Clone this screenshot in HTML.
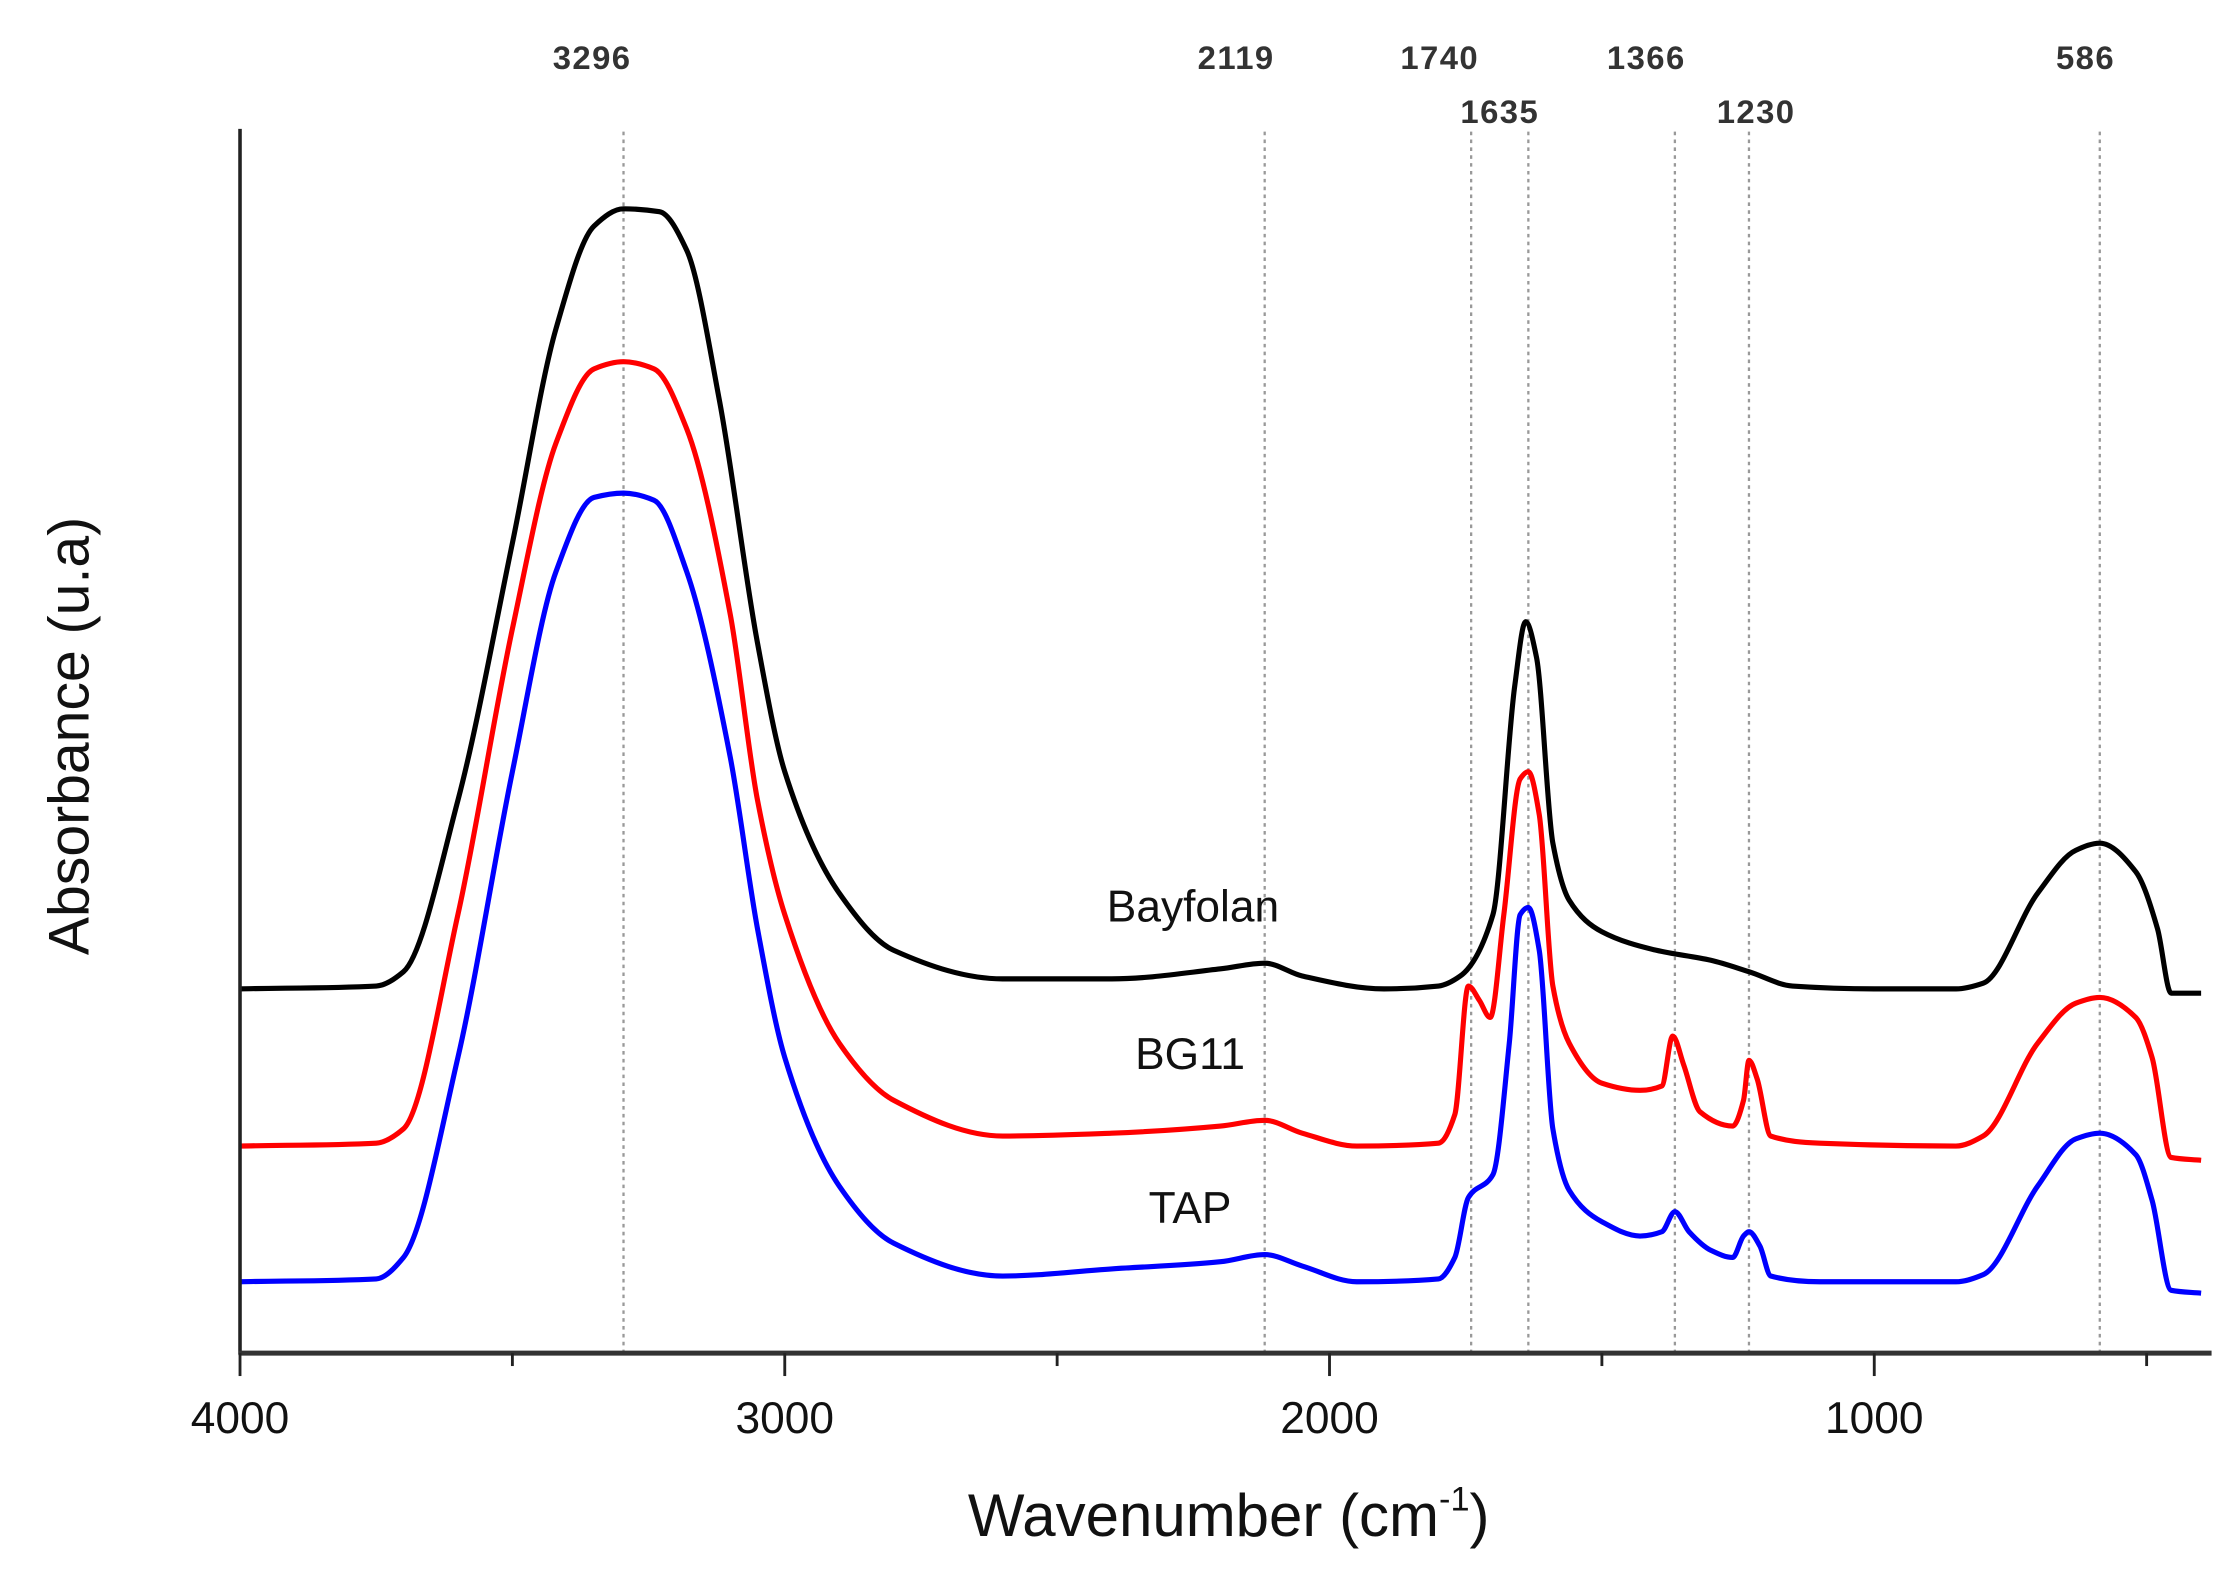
<!DOCTYPE html>
<html><head><meta charset="utf-8"><style>
html,body{margin:0;padding:0;background:#fff;}
svg{display:block;font-family:"Liberation Sans",Arial,sans-serif;}
</style></head><body>
<svg id="chart" width="2233" height="1582" viewBox="0 0 1563 1107" xmlns="http://www.w3.org/2000/svg">
<g id="grid"></g>
<g id="series"></g>
<g id="axes"></g>
<text x="835" y="645" font-size="31" text-anchor="middle" fill="#111">Bayfolan</text>
<text x="833" y="748" font-size="31" text-anchor="middle" fill="#111">BG11</text>
<text x="833" y="856" font-size="31" text-anchor="middle" fill="#111">TAP</text>
<text x="860" y="1075" font-size="42" text-anchor="middle" fill="#111">Wavenumber (cm<tspan font-size="24" dy="-18">-1</tspan><tspan dy="18">)</tspan></text>
<text transform="translate(62,515) rotate(-90)" font-size="40" text-anchor="middle" fill="#111">Absorbance (u.a)</text>
</svg>
<script>
const peakWn=[3296,2119,1740,1635,1366,1230,586];
const peakLabels=["3296","2119","1740","1635","1366","1230","586"];
const peakLabelRow=[0,0,0,1,0,1,0];
const peakLabelShift=[-22,-20,-22,-20,-20,5,-10];
const majorTicks=[4000,3000,2000,1000];
const minorTicks=[3500,2500,1500,500];
const wnBay=[4000,3750,3700,3600,3500,3420,3350,3296,3230,3180,3120,3050,3000,2900,2800,2600,2400,2200,2119,2050,1900,1800,1760,1700,1660,1640,1620,1590,1560,1500,1400,1300,1230,1150,1000,850,800,700,630,586,520,480,455,400];
const absBay=[2.55,2.57,2.67,3.87,5.67,7.17,7.89,8.01,7.99,7.72,6.67,4.97,4.07,3.22,2.82,2.62,2.62,2.69,2.73,2.64,2.55,2.57,2.64,3.07,4.67,5.12,4.87,3.57,3.17,2.95,2.82,2.75,2.67,2.57,2.55,2.55,2.59,3.22,3.52,3.57,3.37,2.97,2.52,2.52];
const wnBg=[4000,3750,3700,3600,3500,3420,3350,3296,3240,3180,3100,3050,3000,2900,2800,2600,2400,2200,2119,2050,1950,1800,1770,1745,1725,1705,1680,1650,1635,1615,1590,1560,1500,1430,1390,1370,1350,1320,1260,1240,1230,1215,1190,1100,850,800,700,630,586,520,490,455,400];
const absBg=[1.45,1.47,1.57,3.07,5.07,6.37,6.89,6.94,6.89,6.47,5.17,3.87,3.07,2.17,1.77,1.52,1.54,1.59,1.63,1.54,1.45,1.47,1.67,2.57,2.47,2.35,3.07,4.02,4.07,3.77,2.57,2.17,1.89,1.84,1.87,2.22,2.02,1.69,1.59,1.77,2.05,1.92,1.52,1.47,1.45,1.52,2.17,2.45,2.49,2.35,2.07,1.37,1.35];
const wnTap=[4000,3750,3700,3600,3500,3420,3350,3296,3240,3180,3100,3050,3000,2900,2800,2600,2400,2200,2119,2050,1950,1800,1770,1745,1700,1670,1650,1635,1615,1590,1560,1500,1430,1390,1366,1340,1300,1260,1240,1230,1210,1190,1100,850,800,700,630,586,520,490,455,400];
const absTap=[0.50,0.52,0.67,2.07,4.07,5.47,5.99,6.02,5.97,5.47,4.17,2.97,2.07,1.17,0.77,0.54,0.59,0.64,0.69,0.61,0.50,0.52,0.67,1.09,1.25,2.17,3.07,3.12,2.82,1.57,1.14,0.92,0.82,0.85,0.99,0.85,0.72,0.67,0.82,0.85,0.75,0.54,0.50,0.50,0.55,1.17,1.50,1.54,1.39,1.07,0.44,0.42];
const NS="http://www.w3.org/2000/svg";
const x0=168,x1=1548,yb=947,yt=90;
function xs(w){return x0+(4000-w)*0.3813;}
function ys(a){return yb-a*100;}
function mk(tag,attrs,parent){const e=document.createElementNS(NS,tag);for(const k in attrs)e.setAttribute(k,attrs[k]);parent.appendChild(e);return e;}
const grid=document.getElementById('grid'),axes=document.getElementById('axes'),series=document.getElementById('series'),svg=document.getElementById('chart');
peakWn.forEach((w,i)=>{
  const l=mk('line',{x1:xs(w),x2:xs(w),y1:92,y2:yb,stroke:'#999','stroke-width':1.6,'stroke-dasharray':'2.5,3'},grid);
  
  
  const t=mk('text',{x:xs(w)+peakLabelShift[i],y:peakLabelRow[i]?86:48,'font-size':23,'text-anchor':'middle',fill:'#333','font-weight':'bold','letter-spacing':'1'},svg);
  t.textContent=peakLabels[i];
  
  
});
function path(wn,ab){
  const p=wn.map((w,i)=>[xs(w),ys(ab[i])]);
  const n=p.length,d=[],m=[];
  for(let i=0;i<n-1;i++)d.push((p[i+1][1]-p[i][1])/(p[i+1][0]-p[i][0]));
  m[0]=d[0];m[n-1]=d[n-2];
  for(let i=1;i<n-1;i++){
    if(d[i-1]*d[i]<=0)m[i]=0;
    else{const h0=p[i][0]-p[i-1][0],h1=p[i+1][0]-p[i][0];const w1=2*h1+h0,w2=h1+2*h0;m[i]=(w1+w2)/(w1/d[i-1]+w2/d[i]);}
  }
  let s='M'+p[0][0].toFixed(2)+','+p[0][1].toFixed(2);
  for(let i=0;i<n-1;i++){
    const h=(p[i+1][0]-p[i][0])/3;
    s+=' C'+(p[i][0]+h).toFixed(2)+','+(p[i][1]+m[i]*h).toFixed(2)+' '+(p[i+1][0]-h).toFixed(2)+','+(p[i+1][1]-m[i+1]*h).toFixed(2)+' '+p[i+1][0].toFixed(2)+','+p[i+1][1].toFixed(2);
  }
  return s;
}
[[wnBay,absBay,'#000','bayfolan'],[wnBg,absBg,'#f00','bg11'],[wnTap,absTap,'#00f','tap']].forEach(s=>{
  const el=mk('path',{d:path(s[0],s[1]),fill:'none',stroke:s[2],'stroke-width':3.6,'stroke-linejoin':'round'},series);
  
  
});
const ya=mk('line',{x1:x0,x2:x0,y1:yt,y2:yb+1,stroke:'#222','stroke-width':2.5},axes);


const xa=mk('line',{x1:x0-1,x2:x1,y1:yb,y2:yb,stroke:'#333','stroke-width':3.5},axes);


majorTicks.forEach(w=>{
  const t=mk('line',{x1:xs(w),x2:xs(w),y1:yb,y2:yb+16,stroke:'#222','stroke-width':2},axes);
  
  
  const l=mk('text',{x:xs(w),y:1003,'font-size':31,'text-anchor':'middle',fill:'#111'},axes);
  l.textContent=w;
  
  
});
minorTicks.forEach(w=>{
  const t=mk('line',{x1:xs(w),x2:xs(w),y1:yb,y2:yb+9,stroke:'#222','stroke-width':2},axes);
  
  
});
</script>
</body></html>
